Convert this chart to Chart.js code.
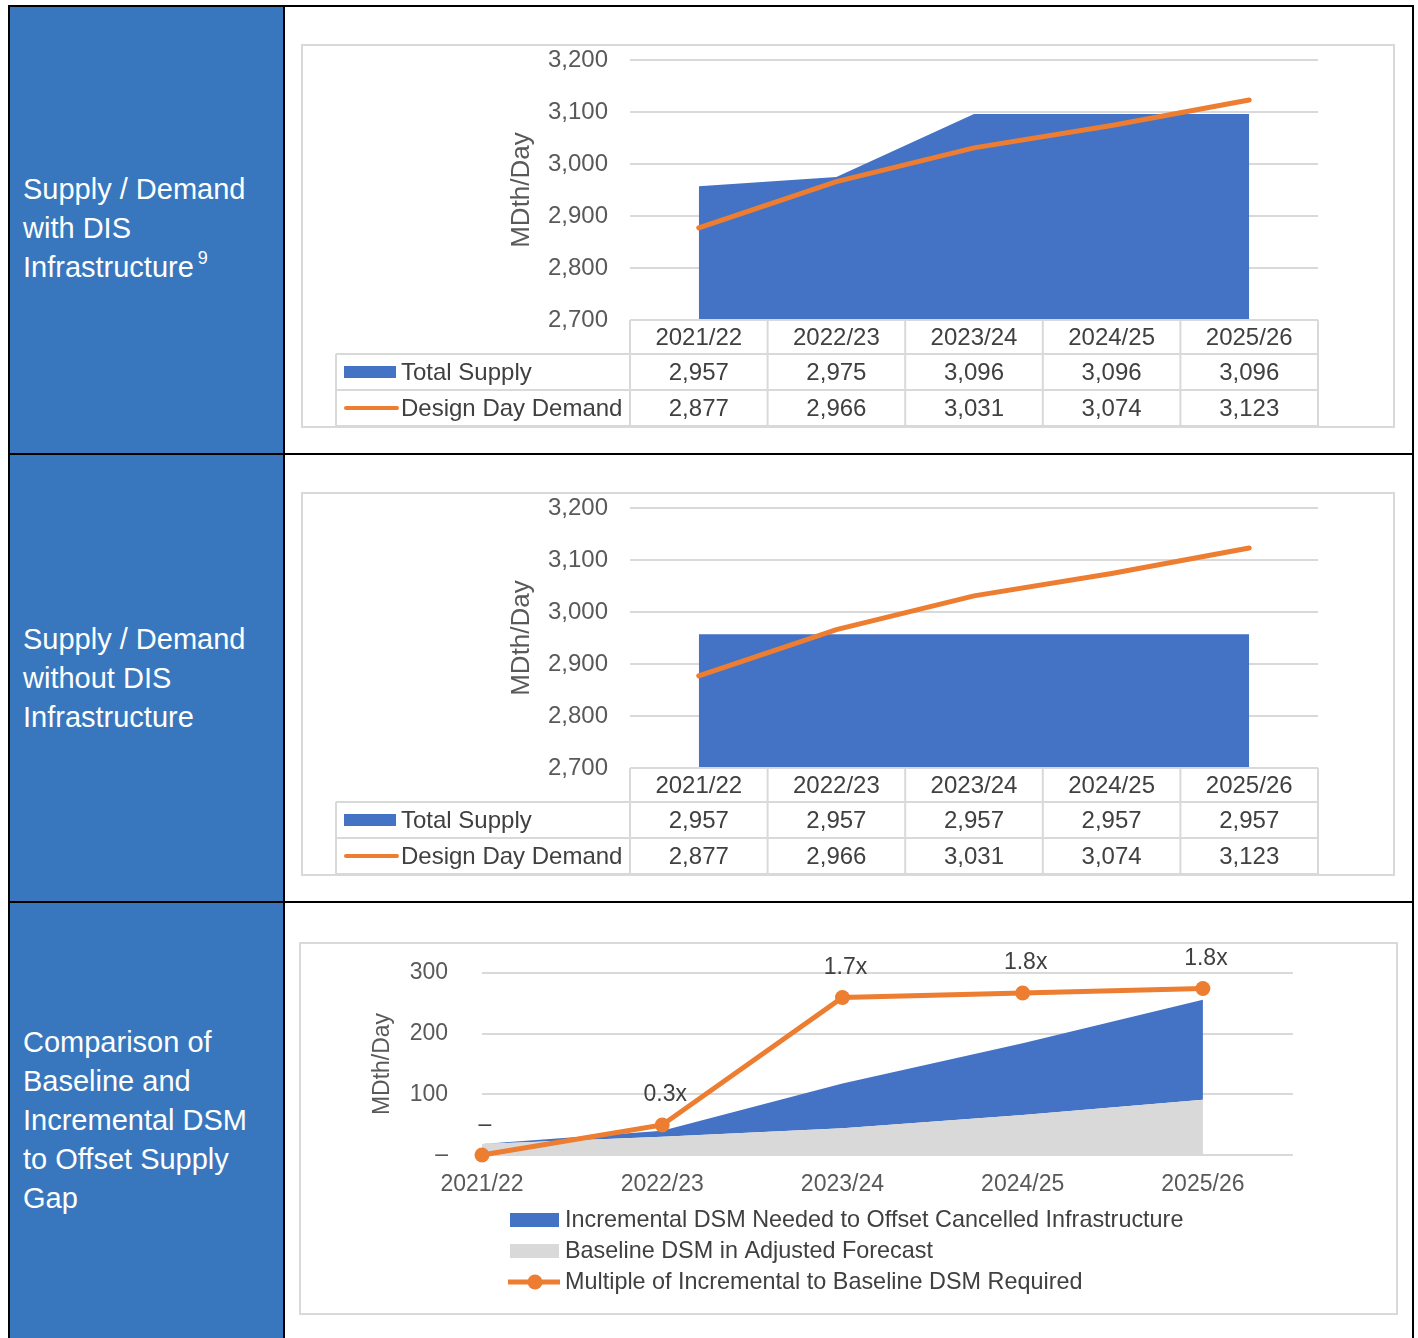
<!DOCTYPE html>
<html>
<head>
<meta charset="utf-8">
<script src="https://cdn.jsdelivr.net/npm/chart.js@4.4.1/dist/chart.umd.min.js"></script>
<style>
body{margin:0;background:#fff;font-family:"Liberation Sans",Arial,sans-serif;}
#page{position:relative;width:1418px;height:1338px;overflow:hidden;}
.ln{position:absolute;background:#000;}
.side{position:absolute;left:10px;width:273px;background:#3877bd;color:#fff;font-size:29px;line-height:39px;display:flex;align-items:center;padding-left:13px;box-sizing:border-box;}
.side sup{font-size:18px;line-height:0;vertical-align:baseline;position:relative;top:-13px;margin-left:4px;}
.box{position:absolute;border:2px solid #d9d9d9;}
.box canvas{display:block;}
</style>
</head>
<body>
<div id="page">

<div class="side" style="top:7px;height:446px;padding-bottom:4px;"><div>Supply / Demand<br>with DIS<br>Infrastructure<sup>9</sup></div></div>
<div class="side" style="top:455px;height:446px;"><div>Supply / Demand<br>without DIS<br>Infrastructure</div></div>
<div class="side" style="top:903px;height:435px;"><div>Comparison of<br>Baseline and<br>Incremental DSM<br>to Offset Supply<br>Gap</div></div>

<div class="ln" style="left:8px;top:5px;width:1406px;height:2px;"></div>
<div class="ln" style="left:8px;top:453px;width:1406px;height:2px;"></div>
<div class="ln" style="left:8px;top:901px;width:1406px;height:2px;"></div>
<div class="ln" style="left:8px;top:5px;width:2px;height:1340px;"></div>
<div class="ln" style="left:283px;top:5px;width:2px;height:1340px;"></div>
<div class="ln" style="left:1412px;top:5px;width:2px;height:1340px;"></div>

<div class="box" style="left:301px;top:44px;"><canvas id="c1" width="1090" height="380"></canvas></div>
<div class="box" style="left:301px;top:492px;"><canvas id="c2" width="1090" height="380"></canvas></div>
<div class="box" style="left:299px;top:942px;"><canvas id="c3" width="1095" height="369"></canvas></div>

</div>

<script>
const years = ["2021/22", "2022/23", "2023/24", "2024/25", "2025/26"];

// chart 1: with DIS infrastructure
const supplyWith = [2957, 2975, 3096, 3096, 3096];
// chart 2: without DIS infrastructure
const supplyWithout = [2957, 2957, 2957, 2957, 2957];
const designDemand = [2877, 2966, 3031, 3074, 3123];

// chart 3: DSM comparison
const baselineDSM = [18, 30, 44, 66, 91];
const incrementalDSM = [0, 10, 74, 118, 165];
const multipleDSM = [0, 0.33, 1.73, 1.78, 1.83];

const supplyTicks = [2700, 2800, 2900, 3000, 3100, 3200];
const dsmTicks = [0, 100, 200, 300];

const BLUE = "#4472c4";
const ORANGE = "#ed7d31";
const GREY = "#d9d9d9";
const TXT = "#404040";
const TICK = "#595959";
const FONT = "'Liberation Sans', Arial, sans-serif";

Chart.defaults.font.family = FONT;
Chart.defaults.color = TICK;

function fmt(v){
  return v.toLocaleString("en-US");
}

// fixed axis width, and no extra label padding above/below the plot
function fixWidth(w){
  return s => { s.width = w; s.paddingTop = 0; s.paddingBottom = 0; };
}

// data table under charts 1 and 2, columns follow the x scale
const dataTablePlugin = {
  id: "dataTable",
  afterDraw(chart){
    const ctx = chart.ctx;
    const xs = chart.scales.x;
    const area = chart.chartArea;
    const step = xs.getPixelForValue(1) - xs.getPixelForValue(0);
    const left = xs.getPixelForValue(0) - step / 2;
    const right = xs.getPixelForValue(years.length - 1) + step / 2;
    const labelLeft = 33;
    const top = area.bottom;
    const r1 = top + 34, r2 = r1 + 36, r3 = r2 + 36;
    ctx.save();
    ctx.strokeStyle = GREY;
    ctx.lineWidth = 2;
    ctx.beginPath();
    ctx.moveTo(left, top); ctx.lineTo(right, top);
    [r1, r2, r3].forEach(y => { ctx.moveTo(labelLeft, y); ctx.lineTo(right, y); });
    ctx.moveTo(labelLeft, r1); ctx.lineTo(labelLeft, r3);
    for(let i = 0; i <= years.length; i++){
      const x = left + i * step;
      ctx.moveTo(x, top); ctx.lineTo(x, r3);
    }
    ctx.stroke();

    ctx.font = "24px " + FONT;
    ctx.fillStyle = TXT;
    ctx.textAlign = "center";
    ctx.textBaseline = "middle";
    const ds = chart.data.datasets;
    years.forEach((y, i) => {
      const x = xs.getPixelForValue(i);
      ctx.fillText(y, x, (top + r1) / 2 + 1);
      ctx.fillText(fmt(ds[1].data[i]), x, (r1 + r2) / 2 + 1);
      ctx.fillText(fmt(ds[0].data[i]), x, (r2 + r3) / 2 + 1);
    });

    // legend keys in the table
    ctx.textAlign = "left";
    ctx.fillStyle = BLUE;
    ctx.fillRect(labelLeft + 8, (r1 + r2) / 2 - 6, 52, 12);
    ctx.strokeStyle = ORANGE;
    ctx.lineWidth = 4;
    ctx.lineCap = "round";
    ctx.beginPath();
    ctx.moveTo(labelLeft + 10, (r2 + r3) / 2);
    ctx.lineTo(labelLeft + 61, (r2 + r3) / 2);
    ctx.stroke();
    ctx.fillStyle = TXT;
    ctx.fillText(ds[1].label, labelLeft + 65, (r1 + r2) / 2 + 1);
    ctx.fillText(ds[0].label, labelLeft + 65, (r2 + r3) / 2 + 1);
    ctx.restore();
  }
};

function supplyChart(id, supply){
  return new Chart(document.getElementById(id), {
    type: "line",
    data: {
      labels: years,
      datasets: [
        {
          label: "Design Day Demand",
          data: designDemand,
          borderColor: ORANGE,
          borderWidth: 5,
          borderCapStyle: "round",
          pointRadius: 0,
          fill: false,
          order: 0
        },
        {
          label: "Total Supply",
          data: supply,
          borderColor: BLUE,
          borderWidth: 0,
          backgroundColor: BLUE,
          pointRadius: 0,
          fill: "start",
          order: 1
        }
      ]
    },
    options: {
      responsive: false,
      animation: false,
      layout: { padding: { left: 203, right: 75, top: 14, bottom: 106 } },
      plugins: { legend: { display: false }, tooltip: { enabled: false } },
      scales: {
        x: { display: false, offset: true },
        y: {
          min: supplyTicks[0],
          max: supplyTicks[supplyTicks.length - 1],
          afterFit: fixWidth(124),
          afterBuildTicks: s => { s.ticks = supplyTicks.map(v => ({ value: v })); },
          ticks: { padding: 22, color: TICK, font: { size: 24 }, callback: v => fmt(v) },
          grid: { color: GREY, lineWidth: 2, drawTicks: false },
          border: { display: false },
          title: { display: true, text: "MDth/Day", color: TICK, font: { size: 26 }, padding: 0 }
        }
      }
    },
    plugins: [dataTablePlugin]
  });
}

supplyChart("c1", supplyWith);
supplyChart("c2", supplyWithout);

// chart 3 extras: data labels over the multiple line and a left aligned legend
const dsmExtras = {
  id: "dsmExtras",
  afterDatasetsDraw(chart){
    const ctx = chart.ctx;
    const meta = chart.getDatasetMeta(0);
    ctx.save();
    ctx.font = "23px " + FONT;
    ctx.fillStyle = TXT;
    ctx.textAlign = "center";
    ctx.textBaseline = "middle";
    meta.data.forEach((p, i) => {
      const v = multipleDSM[i];
      const t = v === 0 ? "\u2013" : v.toFixed(1) + "x";
      ctx.fillText(t, p.x + 3, p.y - 30);
    });
    ctx.restore();
  },
  afterDraw(chart){
    const ctx = chart.ctx;
    const ds = chart.data.datasets;
    const items = [ds[2], ds[1], ds[0]];
    ctx.save();
    ctx.font = "23.4px " + FONT;
    let w = 0;
    items.forEach(d => { w = Math.max(w, ctx.measureText(d.label).width); });
    const total = 49 + 6 + w;
    const x0 = Math.round((chart.width - total) / 2) - 2;
    const y0 = chart.chartArea.bottom + 65;
    ctx.textBaseline = "middle";
    ctx.textAlign = "left";
    items.forEach((d, i) => {
      const y = y0 + i * 31;
      if(d.type === "line" && d.yAxisID === "y1"){
        ctx.strokeStyle = ORANGE;
        ctx.lineWidth = 5;
        ctx.beginPath();
        ctx.moveTo(x0 - 2, y); ctx.lineTo(x0 + 50, y);
        ctx.stroke();
        ctx.fillStyle = ORANGE;
        ctx.beginPath();
        ctx.arc(x0 + 25, y, 7.5, 0, Math.PI * 2);
        ctx.fill();
      } else {
        ctx.fillStyle = d.backgroundColor;
        ctx.fillRect(x0, y - 7, 49, 14);
      }
      ctx.fillStyle = TXT;
      ctx.fillText(d.label, x0 + 55, y + 1);
    });
    ctx.restore();
  }
};

new Chart(document.getElementById("c3"), {
  type: "line",
  data: {
    datasets: [
      {
        type: "line",
        label: "Multiple of Incremental to Baseline DSM Required",
        data: multipleDSM.map((v, i) => ({ x: i, y: v })),
        yAxisID: "y1",
        borderColor: ORANGE,
        backgroundColor: ORANGE,
        borderWidth: 5,
        pointRadius: 7.5,
        pointBorderWidth: 0,
        fill: false,
        clip: false,
        order: -1
      },
      {
        label: "Baseline DSM in Adjusted Forecast",
        data: baselineDSM.map((v, i) => ({ x: i, y: v })),
        yAxisID: "y",
        backgroundColor: GREY,
        borderWidth: 0,
        pointRadius: 0,
        fill: "origin",
        order: 1
      },
      {
        label: "Incremental DSM Needed to Offset Cancelled Infrastructure",
        data: incrementalDSM.map((v, i) => ({ x: i, y: v })),
        yAxisID: "y",
        backgroundColor: BLUE,
        borderWidth: 0,
        pointRadius: 0,
        fill: "-1",
        order: 1
      }
    ]
  },
  options: {
    responsive: false,
    animation: false,
    layout: { padding: { left: 68, right: 103, top: 29, bottom: 108 } },
    plugins: { legend: { display: false }, tooltip: { enabled: false } },
    scales: {
      x: {
        type: "linear",
        min: 0,
        max: years.length - 0.5,
        afterFit: s => { s.height = 50; },
        afterBuildTicks: s => { s.ticks = years.map((y, i) => ({ value: i })); },
        ticks: { padding: 8, color: TICK, font: { size: 23 }, callback: v => years[v] },
        grid: { display: false },
        border: { display: false }
      },
      y: {
        stacked: true,
        min: dsmTicks[0],
        max: dsmTicks[dsmTicks.length - 1],
        afterFit: fixWidth(113),
        afterBuildTicks: s => { s.ticks = dsmTicks.map(v => ({ value: v })); },
        ticks: { padding: 34, color: TICK, font: { size: 23 }, callback: v => v === 0 ? "\u2013" : v },
        grid: { color: GREY, lineWidth: 2, drawTicks: false },
        border: { display: false },
        title: { display: true, text: "MDth/Day", color: TICK, font: { size: 23 }, padding: 0 }
      },
      y1: { display: false, min: 0, max: 2 }
    }
  },
  plugins: [dsmExtras]
});
</script>
</body>
</html>
